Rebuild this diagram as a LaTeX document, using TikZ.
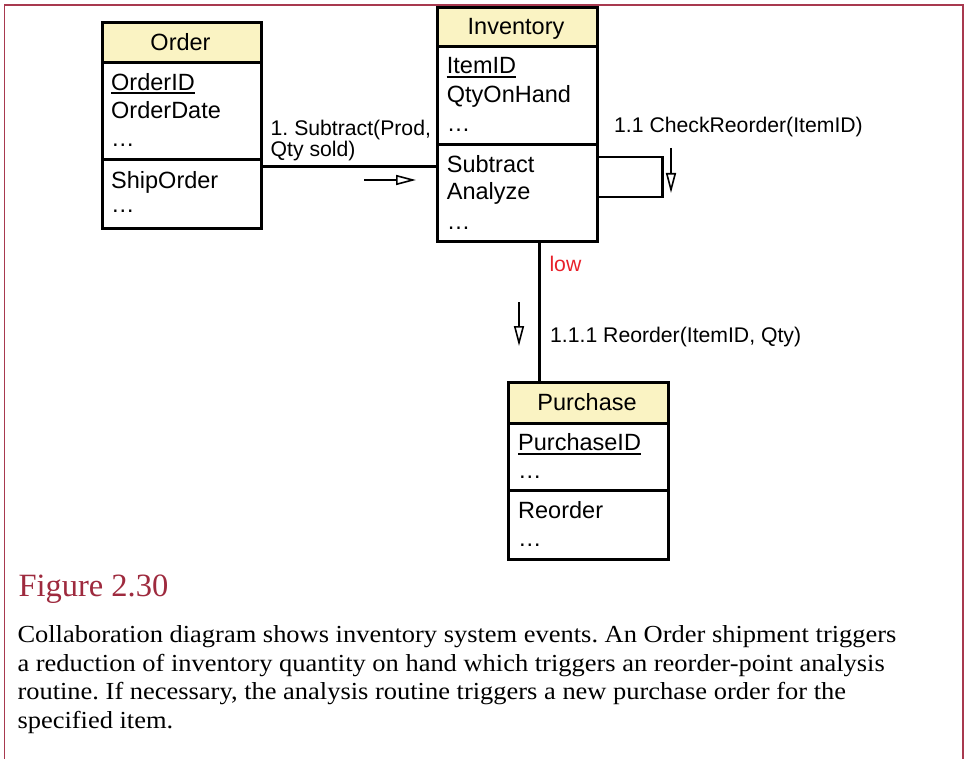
\documentclass[tikz,border=0pt]{standalone}
\usepackage{fontspec}
\setmainfont{Liberation Serif}
\newfontfamily\diagfont{Liberation Sans}
\usetikzlibrary{arrows.meta,calc}
\definecolor{framered}{HTML}{A8394F}
\definecolor{captionred}{HTML}{9E2A3E}
\definecolor{hdrfill}{HTML}{FAF3C3}
\definecolor{guardred}{HTML}{E8202A}
\newcommand{\capline}[1]{\scalebox{1.08}[1]{#1}}

\begin{document}
\frenchspacing
\begin{tikzpicture}[x=1pt,y=-1pt,
  compart/.style={draw=black, line width=2.6pt, anchor=north west, inner sep=0pt},
  header/.style={compart, fill=hdrfill},
  boxtext/.style={anchor=base west, inner sep=0pt, font=\diagfont\fontsize{23.5}{28}\selectfont},
  title/.style={anchor=base, inner sep=0pt, font=\diagfont\fontsize{23.5}{28}\selectfont},
  msg/.style={anchor=base west, inner sep=0pt, font=\diagfont\fontsize{21.2}{24}\selectfont, align=left},
  conn/.style={draw=black, line width=2.4pt},
  keyline/.style={line width=1.8pt},
  msgarrow/.style={line width=1.8pt, -{Triangle[open, length=20pt, width=10pt, line width=1.6pt]}},
  capline/.style={anchor=base west, inner sep=0pt, font=\fontsize{24.5}{28.5}\selectfont}
]
\useasboundingbox (0,0) rectangle (965,759);

% outer frame
\draw[framered, line width=1.5pt] (4.5,759) -- (4.5,5) -- (962.8,5) -- (962.8,759);

% ---------- Order class ----------
\node[header, minimum width=159pt, minimum height=40pt] (ordH) at (101,21) {};
\node[compart, minimum width=159pt, minimum height=97pt] (ordA) at (101,61) {};
\node[compart, minimum width=159pt, minimum height=69pt] (ordO) at (101,158) {};
\node[title] (ordT) at (180.5,50.7) {Order};
\node[boxtext] (ordId) at (111,90.7) {OrderID};
\draw[keyline] ([yshift=-2.4pt]ordId.base west) -- ([yshift=-2.4pt]ordId.base east);
\node[boxtext] (ordDate) at (111,119) {OrderDate};
\node[boxtext] (ordDots) at (111,146.7) {…};
\node[boxtext] (ordShip) at (111,188.3) {ShipOrder};
\node[boxtext] (ordDots2) at (111,213) {…};

% ---------- Inventory class ----------
\node[header, minimum width=160pt, minimum height=39pt] (invH) at (436,6) {};
\node[compart, minimum width=160pt, minimum height=98pt] (invA) at (436,45) {};
\node[compart, minimum width=160pt, minimum height=97pt] (invO) at (436,143) {};
\node[title] (invT) at (516,35) {Inventory};
\node[boxtext] (invId) at (446.7,74) {ItemID};
\draw[keyline] ([yshift=-3.2pt]invId.base west) -- ([yshift=-3.2pt]invId.base east);
\node[boxtext] (invQty) at (446.7,102.3) {QtyOnHand};
\node[boxtext] (invDots) at (446.7,131.7) {…};
\node[boxtext] (invSub) at (446.7,172.3) {Subtract};
\node[boxtext] (invAna) at (446.7,200) {Analyze};
\node[boxtext] (invDots2) at (446.7,229.3) {…};

% ---------- Purchase class ----------
\node[header, minimum width=160pt, minimum height=41pt] (purH) at (507,381) {};
\node[compart, minimum width=160pt, minimum height=67pt] (purA) at (507,422) {};
\node[compart, minimum width=160pt, minimum height=69pt] (purO) at (507,489) {};
\node[title] (purT) at (587,410) {Purchase};
\node[boxtext] (purId) at (518,450) {PurchaseID};
\draw[keyline] ([yshift=-3.6pt]purId.base west) -- ([yshift=-3.6pt]purId.base east);
\node[boxtext] (purDots) at (518,478) {…};
\node[boxtext] (purReo) at (518,518.3) {Reorder};
\node[boxtext] (purDots2) at (518,546.7) {…};

% ---------- links ----------
\path (ordO.north east) ++(0,8.5) coordinate (ordLink);
\draw[conn] (ordLink) -- (ordLink -| invO.west);

\path (invO.south west) ++(103.5,0) coordinate (invLink);
\draw[conn] (invLink) -- (invLink |- purH.north);

\path (invO.north east) ++(0,14) coordinate (loopStart);
\draw[conn] (loopStart) -- ++(64,0) -- ++(0,40) -- ++(-64,0);

% ---------- messages ----------
\node[msg] (m1a) at (270.5,136) {1. Subtract(Prod,};
\node[msg] (m1b) at (270.5,157) {Qty sold)};
\coordinate (a1s) at (364,180);
\coordinate (a1e) at (416,180);
\draw[msgarrow] (a1s) -- (a1e);

\node[msg] (m2) at (614,132.7) {1.1 CheckReorder(ItemID)};
\coordinate (a2s) at (671,148);
\coordinate (a2e) at (671,193);
\draw[msgarrow] (a2s) -- (a2e);

\node[msg, text=guardred] (guard) at (549.3,271.7) {low};
\node[msg] (m3) at (550,342.7) {1.1.1 Reorder(ItemID, Qty)};
\coordinate (a3s) at (519,302);
\coordinate (a3e) at (519,346);
\draw[msgarrow] (a3s) -- (a3e);

% ---------- caption ----------
\node[anchor=base west, inner sep=0pt, text=captionred,
      font=\fontsize{32.5}{36}\selectfont] (figno) at (18.3,596.7) {Figure 2.30};
\node[capline] (cap1) at (17.3,642.7) {\capline{Collaboration diagram shows inventory system events. An Order shipment triggers}};
\node[capline] (cap2) at (17.3,671.2) {\capline{a reduction of inventory quantity on hand which triggers an reorder-point analysis}};
\node[capline] (cap3) at (17.3,699.7) {\capline{routine. If necessary, the analysis routine triggers a new purchase order for the}};
\node[capline] (cap4) at (17.3,728.2) {\capline{specified item.}};
\end{tikzpicture}
\end{document}
